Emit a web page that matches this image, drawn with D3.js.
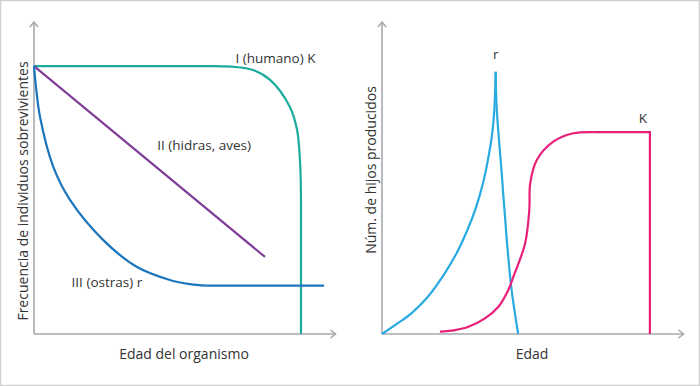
<!DOCTYPE html>
<html>
<head>
<meta charset="utf-8">
<script src="https://cdn.jsdelivr.net/npm/d3@7"></script>
<style>
  body { margin: 0; background: #fff; }
  svg text { font-family: "Open Sans", sans-serif; fill: #333; }
</style>
</head>
<body>
<svg width="700" height="386"></svg>
<script>
const svg = d3.select('svg')

// survivorship curves (left), x = age 0..100, y = survivors 0..100
const curveI = [[0, 89.3], [59.7, 89.3], [66, 89.1], [73, 88], [78.7, 84.7], [85.3, 75.7], [87.7, 68], [88.7, 57], [89, 44.7], [89, 0]];
const curveII = [[0, 89.3], [77, 25.7]];
const curveIII = [[0, 89.3], [0.6, 83], [2, 72.4], [6.4, 55.8], [12, 44.7], [23.1, 31.3], [34.2, 22.4], [45.3, 18], [52, 16.6], [57.6, 16.1], [96.7, 16.1]];

// offspring curves (right)
const curveR = [[0, 0], [5.3, 3.6], [9.8, 6.9], [15.3, 12.4], [20.9, 20.2], [25, 27.2], [28.4, 34.5], [31.4, 42.4], [33.8, 50.8], [35.5, 59.1], [36.7, 66.5], [37.5, 75.8], [37.9, 87.4],
                [38.2, 75.8], [39.9, 53.6], [41.6, 31.3], [43.2, 14.7], [45.4, 0]];
const curveK = [[19.3, 0.8], [24.3, 1.3], [28.8, 2.4], [34.3, 5.2], [38.8, 9.1], [42.1, 14.7], [43.8, 19.1], [47.7, 30.2], [49.1, 41.3], [49.4, 50.2], [51.6, 58], [57.1, 64.1], [63.8, 66.9], [70.4, 67.3], [89.3, 67.3], [89.3, 0]];

// outer frame
svg.append('rect')
  .attr('x', 0.5).attr('y', 0.5).attr('width', 699).attr('height', 385)
  .attr('fill', 'none').attr('stroke', '#d0d0d0').attr('stroke-width', 1.5)

const y = d3.scaleLinear().domain([0, 100]).range([334, 34])

function panel(x0, series, labels, xTitle, yTitle, yTitlePos) {
  const x = d3.scaleLinear().domain([0, 100]).range([x0, x0 + 300])
  const g = svg.append('g')

  // axes with small arrowheads
  const axisColor = '#a7a9ac'
  g.append('line').attr('x1', x(0)).attr('x2', x(0)).attr('y1', y(0)).attr('y2', y(104))
    .attr('stroke', axisColor).attr('stroke-width', 1.6)
  g.append('line').attr('x1', x(0)).attr('x2', x(100.5)).attr('y1', y(0)).attr('y2', y(0))
    .attr('stroke', axisColor).attr('stroke-width', 1.6)
  g.append('path')
    .attr('d', `M${x(0) - 4},${y(104) + 5} L${x(0)},${y(104)} L${x(0) + 4},${y(104) + 5}`)
    .attr('fill', 'none').attr('stroke', axisColor).attr('stroke-width', 1.6)
  g.append('path')
    .attr('d', `M${x(100.5) - 5},${y(0) - 4} L${x(100.5)},${y(0)} L${x(100.5) - 5},${y(0) + 4}`)
    .attr('fill', 'none').attr('stroke', axisColor).attr('stroke-width', 1.6)

  // each series is drawn in parts: [from, to, curve]
  series.forEach(s => {
    s.parts.forEach(p => {
      const line = d3.line().x(d => x(d[0])).y(d => y(d[1])).curve(p[2])
      g.append('path')
        .attr('d', line(s.data.slice(p[0], p[1] + 1)))
        .attr('fill', 'none')
        .attr('stroke', s.color)
        .attr('stroke-width', 2.2)
    })
  })

  labels.forEach(l => {
    g.append('text')
      .attr('x', x(l.x)).attr('y', y(l.y))
      .attr('text-anchor', 'middle')
      .attr('dominant-baseline', 'central')
      .attr('font-size', 13.5)
      .text(l.text)
  })

  g.append('text')
    .attr('x', x(50)).attr('y', 353)
    .attr('text-anchor', 'middle').attr('dominant-baseline', 'central')
    .attr('font-size', 14)
    .text(xTitle)

  g.append('text')
    .attr('transform', `translate(${yTitlePos[0]},${yTitlePos[1]}) rotate(-90)`)
    .attr('text-anchor', 'middle').attr('dominant-baseline', 'central')
    .attr('font-size', 14)
    .text(yTitle)
}

const smooth = d3.curveCatmullRom.alpha(0.5), lin = d3.curveLinear

panel(34, [
  { data: curveI, color: '#1aab9b', parts: [[0, 1, lin], [1, 8, smooth], [8, 9, lin]] },
  { data: curveII, color: '#7f3f98', parts: [[0, 1, lin]] },
  { data: curveIII, color: '#1b75bc', parts: [[0, 9, smooth], [9, 10, lin]] }
], [
  { text: 'I (humano) K', x: 80.5, y: 92 },
  { text: 'II (hidras, aves)', x: 56.7, y: 63 },
  { text: 'III (ostras) r', x: 24.3, y: 17.4 }
], 'Edad del organismo', 'Frecuencia de individuos sobrevivientes', [22, 191])

panel(382, [
  { data: curveR, color: '#29abe2', parts: [[0, 12, smooth], [12, 17, smooth]] },
  { data: curveK, color: '#e8207a', parts: [[0, 13, smooth], [13, 15, lin]] }
], [
  { text: 'r', x: 37.9, y: 93.3 },
  { text: 'K', x: 87, y: 71.9 }
], 'Edad', 'Núm. de hijos producidos', [370, 170])
</script>
</body>
</html>
